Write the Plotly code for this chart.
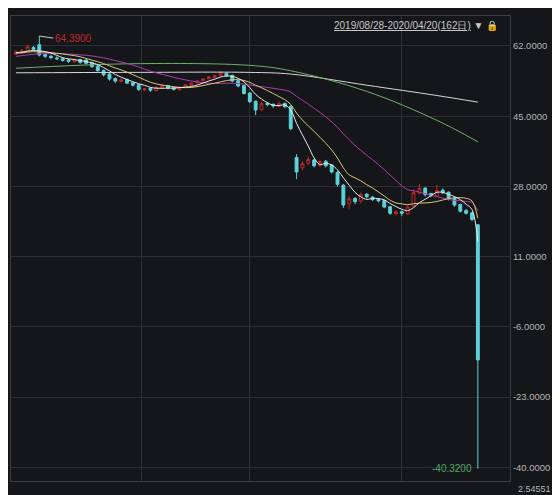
import plotly.graph_objects as go
import numpy as np

# candle data (index-based trading days)
opens = [60.0,60.5,60.9,61.6,62.3,59.9,59.5,59.1,58.9,58.6,58.2,58.7,58.6,57.9,57.1,56.1,55.2,54.1,53.4,53.9,53.1,52.6,51.4,51.7,51.2,52.0,52.4,51.9,51.4,52.0,52.5,53.1,53.6,54.1,54.4,54.8,55.4,54.9,53.6,52.4,50.6,48.6,46.6,48.1,47.9,47.4,48.1,47.4,35.0,32.5,33.6,34.4,33.1,34.1,33.2,31.4,28.3,23.8,25.1,24.5,26.1,25.4,24.9,24.6,23.1,21.4,21.9,21.3,23.2,26.4,27.6,26.3,25.7,27.1,26.6,25.2,23.6,22.2,21.6,18.7]
closes = [60.5,60.8,61.8,61.2,59.8,59.5,59.2,58.9,58.5,58.3,58.6,58.0,57.8,57.0,56.0,55.0,54.0,53.5,53.8,53.0,52.5,51.5,51.6,51.3,52.0,52.3,51.8,51.5,52.0,52.6,53.0,53.5,54.0,54.5,54.8,55.5,54.8,53.5,52.3,50.5,48.5,46.5,48.0,47.8,47.5,48.0,47.3,42.0,31.5,33.5,34.5,33.0,34.0,33.0,31.5,28.5,23.5,25.0,24.3,26.0,25.5,24.8,24.5,23.0,21.5,21.8,21.5,23.0,26.5,27.5,26.0,25.8,27.0,26.5,25.0,23.5,22.0,21.5,20.0,-14.0]
highs = [61.0,61.3,62.3,62.0,64.39,60.3,59.8,59.5,59.2,58.9,58.9,58.9,58.9,58.2,57.4,56.3,55.5,54.4,54.2,54.1,53.3,52.8,51.9,51.9,52.3,52.6,52.6,52.1,52.2,52.8,53.2,53.8,54.2,54.7,55.0,55.9,55.6,55.0,53.8,52.6,50.8,48.8,48.5,48.4,48.0,48.6,48.3,47.6,35.8,34.1,35.3,34.7,34.5,34.4,33.4,31.7,28.6,25.6,25.4,26.5,26.4,25.7,25.2,24.8,23.3,22.2,22.1,23.4,27.3,28.6,27.8,26.4,28.4,27.5,26.8,25.4,23.8,22.5,21.8,18.9]
lows = [59.8,60.1,60.7,60.9,59.5,59.1,58.8,58.6,58.2,57.9,58.0,57.7,57.5,56.7,55.8,54.6,53.6,53.0,53.2,52.8,52.2,51.1,51.1,50.9,51.0,51.8,51.5,51.2,51.2,51.8,52.3,52.9,53.4,53.9,54.2,54.6,54.5,53.2,52.0,50.2,48.2,45.3,46.2,47.4,47.0,47.2,46.9,41.6,29.8,31.9,33.2,32.6,32.7,32.6,31.1,28.0,22.8,22.6,23.7,23.9,25.1,24.5,24.2,22.7,21.1,21.0,20.8,21.1,22.9,26.1,25.6,25.4,25.5,26.1,24.6,23.1,21.7,21.2,19.6,-40.32]
prior_closes = [57.5,57.9,58.3,58.0,58.6,59.0,59.3,59.0,59.6,60.0,60.2,59.8,60.1,60.4,60.0,60.3,60.6,60.2,60.4]
ma60_idx = [0,20,40,47,60,72,79]
ma60_val = [56.6,57.7,57.3,56.0,51.0,44.0,38.8]
ma120_idx = [0,20,40,47,60,72,79]
ma120_val = [55.5,55.6,55.6,55.2,52.5,50.0,48.4]
tick_vals = [62,45,28,11,-6,-23,-40]
tick_text = ["62.0000","45.0000","28.0000","11.0000","-6.0000","-23.0000","-40.0000"]

n = len(closes)
x = list(range(n))
allc = np.array(prior_closes + closes)
def ma(k):
    off = len(prior_closes)
    return [allc[off+i-k+1:off+i+1].mean() for i in range(n)]

fig = go.Figure()
fig.add_trace(go.Scatter(x=ma120_idx, y=ma120_val, mode="lines", line=dict(color="#d8d8d8", width=1, shape="spline")))
fig.add_trace(go.Scatter(x=ma60_idx, y=ma60_val, mode="lines", line=dict(color="#6fae6a", width=1, shape="spline")))
fig.add_trace(go.Scatter(x=x, y=ma(20), mode="lines", line=dict(color="#b23ab0", width=1, shape="spline")))
fig.add_trace(go.Scatter(x=x, y=ma(10), mode="lines", line=dict(color="#d8c870", width=1, shape="spline")))
fig.add_trace(go.Scatter(x=x, y=ma(5), mode="lines", line=dict(color="#e8e8e8", width=1, shape="spline")))
fig.add_trace(go.Candlestick(x=x, open=opens, high=highs, low=lows, close=closes,
    increasing=dict(line=dict(color="#c0282d", width=1), fillcolor="rgba(0,0,0,0)"),
    decreasing=dict(line=dict(color="#5cd2da", width=1), fillcolor="#5cd2da"),
    whiskerwidth=0))

fig.update_layout(
    width=560, height=495, showlegend=False,
    paper_bgcolor="#151619", plot_bgcolor="#151619",
    margin=dict(l=3, r=58, t=8, b=22),
    xaxis=dict(range=[-0.84, 84.5], rangeslider=dict(visible=False), showticklabels=False,
               tickvals=[21.5, 40, 66], showgrid=True, gridcolor="#2c2f34", zeroline=False,
               showline=True, linecolor="#3a3d42", mirror=True),
    yaxis=dict(side="right", range=[-43.3, 69.25], tickvals=tick_vals, ticktext=tick_text,
               gridcolor="#2c2f34", zeroline=False, tickfont=dict(color="#b5b5b5", size=9.5, family="Arial"),
               showline=True, linecolor="#3a3d42", mirror=True, ticklen=0),
    font=dict(family="Arial"),
)
fig.add_annotation(xref="paper", yref="paper", x=0.98, y=0.995, xanchor="right", yanchor="top",
    text="<u>2019/08/28-2020/04/20(162日)</u> ▼ 🔒", showarrow=False, font=dict(color="#c8c8c8", size=10))
fig.add_annotation(x=4, y=64.39, ax=14, ay=2, text="64.3900", showarrow=True, arrowhead=0, arrowcolor="#cccccc",
    arrowwidth=1, axref="pixel", font=dict(color="#c0282d", size=10), xanchor="left")
fig.add_annotation(x=79, y=-40.32, text="-40.3200", showarrow=False, xanchor="right", xshift=-4,
    font=dict(color="#4fa66a", size=10))
fig.add_annotation(xref="paper", yref="paper", x=1.0, y=0, xanchor="left", yanchor="top", xshift=6, yshift=-1,
    text="2.54551", showarrow=False, font=dict(color="#b5b5b5", size=9))
fig.write_html("out.html")
